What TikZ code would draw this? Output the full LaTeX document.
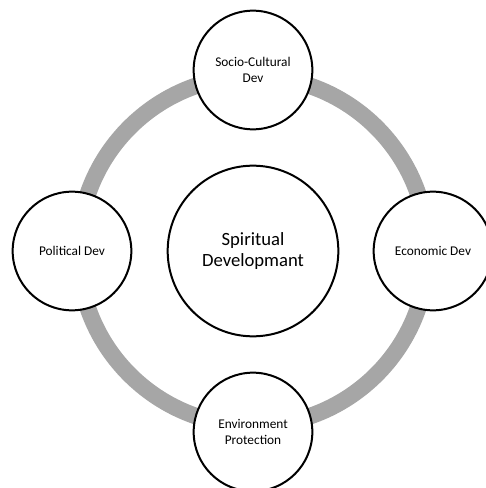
\documentclass[tikz,border=0pt]{standalone}
\usepackage{fontspec}
\setmainfont{Carlito}
\definecolor{ringgray}{HTML}{A6A6A6}
\begin{document}
\begin{tikzpicture}[x=0.75pt,y=-0.75pt,
  sat/.style={circle,draw=black,line width=1.5pt,fill=white,minimum size=89pt,inner sep=0pt,align=center,font=\fontsize{10}{11.5}\selectfont},
  core/.style={circle,draw=black,line width=1.5pt,fill=white,minimum size=128pt,inner sep=0pt,align=center,font=\fontsize{14}{15.5}\selectfont},
  ring/.style={draw=ringgray,line width=12.5pt}]
\useasboundingbox (0,0) rectangle (485,488);
\coordinate (c) at (253,251);
\draw[ring] (c) circle[radius=131pt];
\node[core] (spirit) at (c) {Spiritual\\Developmant};
\node[sat] (socio) at (253,70) {Socio-Cultural\\Dev};
\node[sat] (econ) at (433,251) {Economic Dev};
\node[sat] (env) at (253,432) {Environment\\Protection};
\node[sat] (pol) at (72,251) {Political Dev};
\end{tikzpicture}
\end{document}
